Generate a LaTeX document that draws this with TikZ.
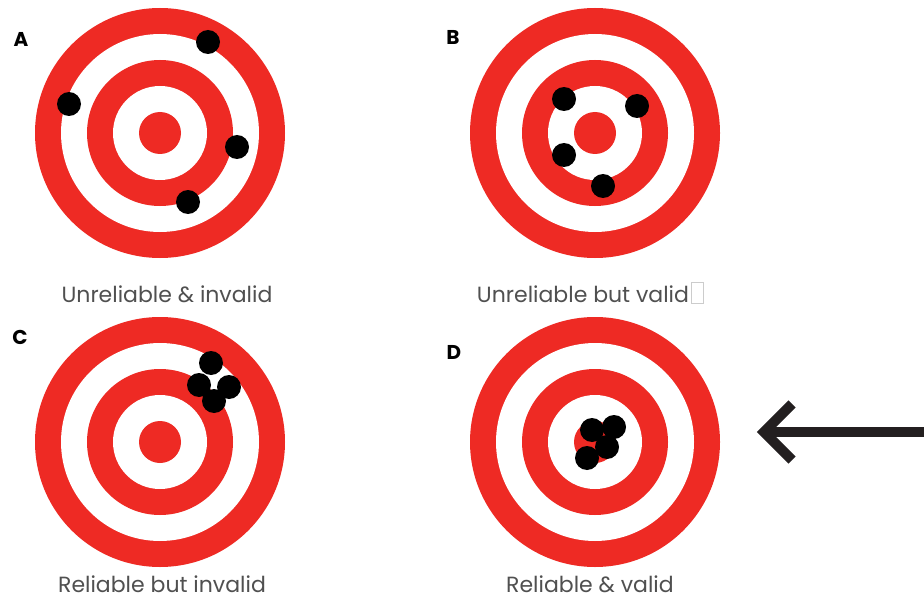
\documentclass[tikz,border=0pt]{standalone}
\usepackage{fontspec}
\setmainfont{Poppins}
\definecolor{tred}{HTML}{EE2A24}
\definecolor{tgray}{HTML}{505050}
\definecolor{arrowc}{HTML}{231F20}
\newcommand\mytarget[2]{%
  \fill[tred]  (#1,#2) circle[radius=125];
  \fill[white] (#1,#2) circle[radius=99];
  \fill[tred]  (#1,#2) circle[radius=73];
  \fill[white] (#1,#2) circle[radius=47];
  \fill[tred]  (#1,#2) circle[radius=21];
}
\tikzset{
  hole/.style={fill=black},
  caption/.style={text=tgray, anchor=base, inner sep=0pt, font=\fontsize{22}{26}\selectfont},
  panel/.style={text=black, inner sep=0pt, font=\bfseries\fontsize{20}{24}\selectfont},
  bigarrow/.style={draw=arrowc, line width=10pt},
}
\begin{document}
\begin{tikzpicture}[x=1pt,y=-1pt]
\useasboundingbox (0,0) rectangle (924,599);
\fill[white] (0,0) rectangle (924,599);

% targets
\mytarget{160}{133}
\mytarget{595}{133}
\mytarget{160}{442}
\mytarget{595}{442}

% A holes
\fill[hole] (208,42) circle[radius=12];
\fill[hole] (69,104) circle[radius=12];
\fill[hole] (237,147) circle[radius=12];
\fill[hole] (188,202) circle[radius=12];

% B holes
\fill[hole] (564,99) circle[radius=12];
\fill[hole] (637,106) circle[radius=12];
\fill[hole] (564,155) circle[radius=12];
\fill[hole] (603,186) circle[radius=12];

% C holes
\fill[hole] (211,363) circle[radius=12];
\fill[hole] (199,385) circle[radius=12];
\fill[hole] (229,387) circle[radius=12];
\fill[hole] (214,401) circle[radius=12];

% D holes
\fill[hole] (592,430) circle[radius=12];
\fill[hole] (614,427) circle[radius=12];
\fill[hole] (607,447) circle[radius=12];
\fill[hole] (587,458) circle[radius=12];

% panel letters
\node[panel] (la) at (21,39) {A};
\node[panel] (lb) at (453,37) {B};
\node[panel] (lc) at (20,337) {C};
\node[panel] (ld) at (454,352) {D};

% captions
\node[caption] (ca) at (167,302) {Unreliable \& invalid};
\node[caption] (cb) at (583,302) {Unreliable but valid};
\draw[draw=black!20, line width=0.8pt] (cb.base east) ++(2,-20) rectangle ++(12,21);
\node[caption] (cc) at (162,592) {Reliable but invalid};
\node[caption] (cd) at (590,592) {Reliable \& valid};

% arrow
\coordinate (tip) at (764,432);
\coordinate (tail) at (924,432);
\coordinate (armup) at (792,404);
\coordinate (armdn) at (792,460);
\draw[bigarrow] (tip) -- (tail);
\draw[bigarrow, miter limit=10] (armup) -- (tip) -- (armdn);
\end{tikzpicture}
\end{document}
